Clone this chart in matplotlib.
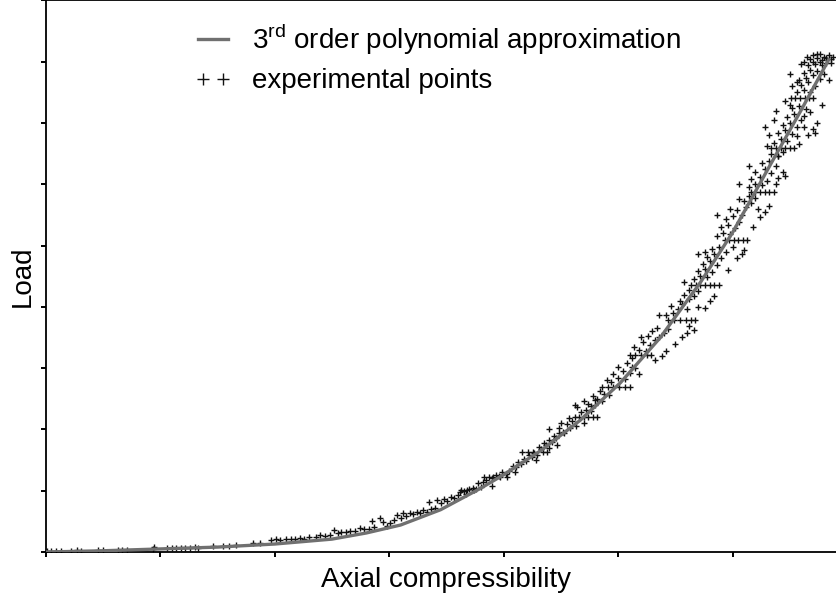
import matplotlib
matplotlib.use("Agg")
import matplotlib.pyplot as plt
from matplotlib.legend_handler import HandlerLine2D
import numpy as np

plt.rcParams['font.family'] = ['Liberation Sans', 'DejaVu Sans']
plt.rcParams['mathtext.fontset'] = 'custom'
plt.rcParams['mathtext.rm'] = 'Liberation Sans'

# 3rd order polynomial approximation
curve_x = [0, 0.5, 1.0, 1.5, 2.0, 2.5, 2.8, 3.1, 3.45, 3.8, 4.0, 4.33, 4.67,
           5.02, 5.37, 5.72, 6.0, 6.34, 6.6, 6.84]
curve_y = [0, 0.02, 0.05, 0.08, 0.13, 0.21, 0.31, 0.44, 0.69, 1.04, 1.26, 1.66,
           2.15, 2.76, 3.50, 4.40, 5.21, 6.35, 7.21, 8.03]

# experimental points (x, y), split by part of the curve
exp_low = [(0.01, 0.01), (0.05, 0.01), (0.09, 0.01), (0.13, 0.02), (0.22, 0.02),
           (0.27, 0.03), (0.31, 0.02), (0.46, 0.03), (0.50, 0.04), (0.63, 0.03),
           (0.67, 0.04), (0.71, 0.04), (0.94, 0.05), (0.95, 0.08), (1.06, 0.06),
           (1.10, 0.07), (1.14, 0.06), (1.18, 0.07), (1.22, 0.07), (1.26, 0.07),
           (1.30, 0.08), (1.33, 0.07), (1.46, 0.09), (1.55, 0.10), (1.60, 0.10),
           (1.66, 0.11), (1.81, 0.15), (1.87, 0.14), (1.97, 0.20), (2.01, 0.21),
           (2.05, 0.19), (2.10, 0.21), (2.14, 0.22), (2.18, 0.21), (2.22, 0.23),
           (2.26, 0.22), (2.30, 0.24), (2.36, 0.25), (2.40, 0.27), (2.44, 0.26),
           (2.48, 0.28), (2.52, 0.36), (2.55, 0.31), (2.58, 0.33), (2.62, 0.32),
           (2.66, 0.34), (2.70, 0.35), (2.75, 0.39), (2.78, 0.37), (2.82, 0.38),
           (2.85, 0.51), (2.87, 0.40), (2.92, 0.55), (2.95, 0.49), (2.98, 0.42)]

exp_mid1 = [(3.01, 0.47), (3.04, 0.52), (3.07, 0.60), (3.10, 0.55), (3.12, 0.63),
            (3.15, 0.58), (3.18, 0.64), (3.21, 0.62), (3.24, 0.66), (3.27, 0.64),
            (3.30, 0.68), (3.33, 0.66), (3.35, 0.82), (3.37, 0.70), (3.40, 0.72),
            (3.42, 0.85), (3.45, 0.80), (3.48, 0.87), (3.51, 0.84), (3.54, 0.90),
            (3.57, 0.88), (3.60, 0.93), (3.62, 0.98), (3.65, 1.00), (3.67, 0.95),
            (3.70, 1.02), (3.73, 1.04), (3.76, 1.03), (3.78, 1.12), (3.80, 1.06),
            (3.82, 1.15), (3.85, 1.17), (3.87, 1.22), (3.90, 1.20), (3.93, 1.26),
            (3.96, 1.24), (3.99, 1.30), (4.02, 1.28), (4.05, 1.32), (4.08, 1.40),
            (4.11, 1.38), (4.13, 1.47), (4.15, 1.44), (4.18, 1.52), (4.20, 1.49),
            (4.22, 1.58), (4.25, 1.55), (4.27, 1.62), (4.29, 1.59), (4.31, 1.72),
            (4.33, 1.68), (4.35, 1.78), (4.37, 1.75), (4.40, 1.83), (4.42, 1.80),
            (4.44, 1.90), (4.46, 1.86), (4.48, 1.94), (3.90, 1.08), (4.10, 1.30),
            (4.28, 1.50), (4.40, 1.70), (4.47, 1.75), (3.63, 1.01), (3.68, 1.01),
            (3.74, 1.01), (3.83, 1.22), (3.91, 1.22), (3.97, 1.22), (4.03, 1.22),
            (4.16, 1.63), (4.21, 1.63), (4.26, 1.63), (4.34, 1.63), (4.38, 1.63)]

exp_mid2 = [(4.48, 2.02), (4.52, 1.96), (4.55, 2.08), (4.58, 2.02), (4.60, 2.14),
            (4.50, 2.10), (4.63, 2.06), (4.57, 2.18), (4.62, 2.20), (4.66, 2.20),
            (4.70, 2.20), (4.74, 2.20), (4.78, 2.20), (4.82, 2.20), (4.68, 2.28),
            (4.72, 2.32), (4.64, 2.36), (4.76, 2.30), (4.74, 2.42), (4.80, 2.40),
            (4.70, 2.46), (4.82, 2.50), (4.86, 2.46), (4.78, 2.55), (4.88, 2.58),
            (4.84, 2.62), (4.92, 2.56), (4.86, 2.69), (4.91, 2.69), (4.96, 2.69),
            (5.01, 2.69), (5.06, 2.69), (5.10, 2.69), (4.94, 2.78), (5.00, 2.84),
            (4.96, 2.90), (5.06, 2.82), (5.04, 2.95), (5.10, 2.92), (5.00, 3.02),
            (5.12, 3.02), (5.08, 3.08), (5.15, 3.00), (5.10, 3.21), (5.15, 3.21),
            (5.20, 3.21), (5.25, 3.21), (5.29, 3.21), (5.12, 3.16), (5.18, 3.30),
            (5.24, 3.28), (5.14, 3.34), (5.28, 3.38), (5.22, 3.42), (5.32, 3.46),
            (5.26, 3.52), (5.36, 3.50), (5.30, 3.60), (5.40, 3.58), (5.34, 3.66),
            (5.44, 3.64), (5.44, 3.78), (5.49, 3.78), (5.54, 3.78), (5.59, 3.78),
            (5.64, 3.78), (5.67, 3.78), (5.42, 3.86), (5.48, 3.90), (5.52, 3.96),
            (5.46, 4.02), (5.56, 4.04), (5.60, 3.96), (5.54, 4.10), (5.62, 4.12),
            (5.58, 4.20), (5.66, 4.18), (5.62, 4.28), (5.70, 4.26), (5.32, 3.14),
            (5.38, 3.20), (5.42, 3.28), (5.56, 3.50), (5.60, 3.58), (5.66, 3.62),
            (5.62, 3.68), (4.53, 1.94), (4.76, 2.38), (4.80, 2.48), (4.40, 2.00),
            (4.62, 2.40), (4.70, 2.10), (4.90, 2.80), (5.18, 2.90), (5.20, 3.50),
            (5.50, 3.40), (5.36, 3.86), (5.70, 4.00)]

exp_high1 = [(5.64, 4.36), (5.68, 4.36), (5.72, 4.36), (5.76, 4.36), (5.80, 4.36),
             (5.84, 4.36), (5.88, 4.36), (5.66, 4.46), (5.72, 4.50), (5.78, 4.48),
             (5.70, 4.58), (5.76, 4.62), (5.82, 4.56), (5.74, 4.70), (5.80, 4.74),
             (5.86, 4.68), (5.78, 4.82), (5.84, 4.86), (5.90, 4.80), (5.82, 4.94),
             (5.88, 4.98), (5.94, 4.90), (5.76, 4.90), (5.93, 5.09), (5.97, 5.09),
             (6.01, 5.09), (6.05, 5.09), (6.09, 5.09), (6.13, 5.09), (5.86, 5.16),
             (5.92, 5.20), (5.98, 5.18), (5.90, 5.30), (5.96, 5.34), (6.02, 5.28),
             (6.06, 5.38), (5.94, 5.44), (6.00, 5.48), (6.08, 5.50), (6.04, 5.58),
             (6.12, 5.62), (5.98, 5.60), (6.10, 5.72), (6.16, 5.70), (6.06, 5.76),
             (6.14, 5.80), (6.20, 5.78), (6.16, 5.87), (6.20, 5.87), (6.24, 5.87),
             (6.28, 5.87), (6.32, 5.87), (6.36, 5.87), (6.14, 5.96), (6.20, 6.00),
             (6.26, 5.98), (6.16, 6.08), (6.24, 6.12), (6.30, 6.06), (6.20, 6.20),
             (6.28, 6.24), (6.34, 6.18), (6.26, 6.34), (6.32, 6.38), (6.38, 6.30),
             (5.76, 3.98), (5.80, 4.10), (5.84, 4.18), (6.04, 4.80), (6.08, 4.86),
             (6.10, 4.92), (6.24, 5.46), (6.28, 5.54), (6.32, 5.64), (6.22, 5.60),
             (6.40, 6.10), (6.44, 6.20), (6.46, 6.14), (5.58, 4.40), (5.96, 4.60),
             (5.70, 4.86), (6.00, 4.98), (5.86, 5.50), (6.18, 5.30), (6.06, 6.00),
             (6.38, 6.00), (6.14, 6.30), (6.40, 6.46)]

exp_high2 = [(6.34, 6.59), (6.38, 6.59), (6.42, 6.59), (6.46, 6.59), (6.50, 6.59),
             (6.54, 6.59), (6.34, 6.50), (6.40, 6.46), (6.44, 6.52), (6.36, 6.68),
             (6.42, 6.74), (6.48, 6.70), (6.40, 6.84), (6.46, 6.88), (6.52, 6.82),
             (6.56, 6.78), (6.44, 6.96), (6.50, 7.00), (6.56, 6.94), (6.60, 7.04),
             (6.48, 7.10), (6.54, 7.14), (6.62, 7.12), (6.52, 7.24), (6.58, 7.28),
             (6.64, 7.22), (6.68, 7.18), (6.50, 7.30), (6.51, 7.41), (6.55, 7.41),
             (6.59, 7.41), (6.63, 7.41), (6.67, 7.41), (6.70, 7.41), (6.56, 7.50),
             (6.62, 7.54), (6.68, 7.50), (6.60, 7.62), (6.66, 7.66), (6.72, 7.60),
             (6.64, 7.74), (6.70, 7.78), (6.76, 7.72), (6.68, 7.86), (6.74, 7.84),
             (6.80, 7.80), (6.58, 7.70), (6.62, 7.82), (6.62, 8.00), (6.65, 8.08),
             (6.68, 8.04), (6.70, 8.10), (6.72, 7.96), (6.74, 8.06), (6.76, 8.12),
             (6.78, 8.02), (6.80, 8.08), (6.82, 7.98), (6.84, 8.10), (6.86, 8.04),
             (6.88, 8.08), (6.66, 7.94), (6.70, 8.00), (6.74, 8.12), (6.78, 7.94),
             (6.82, 8.06), (6.86, 7.98), (6.76, 8.00), (6.28, 6.93), (6.32, 6.80),
             (6.36, 7.04), (6.46, 7.36), (6.52, 7.60), (6.56, 7.66), (6.66, 6.80),
             (6.70, 6.90), (6.74, 7.00), (6.72, 6.84), (6.30, 6.62), (6.58, 6.66),
             (6.62, 6.94), (6.38, 7.20), (6.78, 7.30), (6.50, 7.80), (6.84, 7.70),
             (6.60, 7.96)]

x_ticks = [0, 1, 2, 3, 4, 5, 6, 7]
y_ticks = [0, 1, 2, 3, 4, 5, 6, 7, 8, 9]

pts = np.array(exp_low + exp_mid1 + exp_mid2 + exp_high1 + exp_high2)

fig = plt.figure(figsize=(8.37, 6.01), dpi=100)
# axes runs a little past the right edge of the picture
ax = fig.add_axes([45.7 / 837, 49 / 601, 801.3 / 837, 551.7 / 601])

pts_line, = ax.plot(pts[:, 0], pts[:, 1], ls='none', marker='+', ms=4, mew=1.0,
                    color='#111111', zorder=2)
fit_line, = ax.plot(curve_x, curve_y, color='#707070', lw=2.4, zorder=3)

ax.set_xlim(0, 7)
ax.set_ylim(0, 9)
ax.set_xticks(x_ticks)
ax.set_yticks(y_ticks)
ax.tick_params(direction='out', length=3.5, width=1.4, labelbottom=False, labelleft=False)
ax.spines['right'].set_visible(False)
for s in ['left', 'bottom', 'top']:
    ax.spines[s].set_linewidth(1.3)

ax.set_xlabel('Axial compressibility', fontsize=20)
ax.set_ylabel('Load', fontsize=20)
ax.xaxis.set_label_coords(0.5, -15 / 551.7)
ax.yaxis.set_label_coords(-10 / 801.3, 0.5)

fig.legend([fit_line, pts_line],
           ['3$^{\\mathrm{rd}}$ order polynomial approximation', 'experimental points'],
           handler_map={fit_line: HandlerLine2D(numpoints=1),
                        pts_line: HandlerLine2D(numpoints=2, marker_pad=0.18)},
           loc='upper left', bbox_to_anchor=(198 / 837, 1 - 22 / 601), frameon=False,
           fontsize=20, markerscale=2.0, handlelength=1.08, handletextpad=0.86,
           labelspacing=0.4, borderpad=0, borderaxespad=0)

fig.savefig('out.png', dpi=100)
